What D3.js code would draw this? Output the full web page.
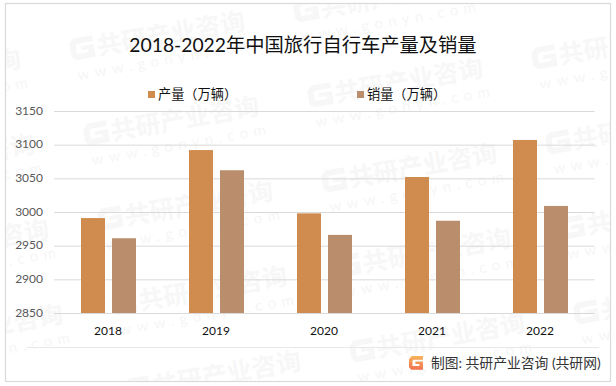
<!doctype html>
<html lang="zh-CN">
<head>
	<meta charset="UTF-8">
	<title>2018-2022年中国旅行自行车产量及销量</title>
	<style>
		html, body { margin: 0; padding: 0; background: #fff; }
		svg { display: block; }
		text { font-family: Lato, "Noto Sans CJK SC", sans-serif; }
	</style>
</head>
<body>
	<script src="https://cdn.jsdelivr.net/npm/d3@7"></script>
	<script>
		var years = ['2018', '2019', '2020', '2021', '2022'];
		var seriesNames = ['产量（万辆）', '销量（万辆）'];
		var output = [2991, 3092, 2998, 3052, 3107];
		var sales = [2961, 3062, 2966, 2987, 3009];
		var yTicks = [2850, 2900, 2950, 3000, 3050, 3100, 3150];
		var colors = ['#d08c4e', '#ba8e6c'];

		var w = 616,
			h = 386;

		var svg = d3.select('body')
			.append('svg')
			.attr('width', w)
			.attr('height', h);

		var defs = svg.append('defs');

		defs.append('clipPath')
			.attr('id', 'frame')
			.append('rect')
			.attr('x', 6).attr('y', 4)
			.attr('width', 604).attr('height', 377);

		var grad = defs.append('linearGradient')
			.attr('id', 'logo')
			.attr('x1', 0).attr('y1', 0)
			.attr('x2', 0).attr('y2', 1);
		grad.append('stop').attr('offset', 0).attr('stop-color', '#f9b45a');
		grad.append('stop').attr('offset', 1).attr('stop-color', '#ef7150');

		// outer frame
		svg.append('rect')
			.attr('x', 5.5).attr('y', 3.5)
			.attr('width', 605).attr('height', 378)
			.attr('fill', '#fff')
			.attr('stroke', '#d9d9d9')
			.attr('stroke-width', 1.2);

		// block G used by the watermark and the footer logo, 24 wide, 22 high
		var gShape = 'M5 0H24V6H8L6 8V16H18V13H11V9H24V22H4L0 18V5Z';

		// watermark, tiled under the chart
		var marks = svg.append('g')
			.attr('class', 'watermark')
			.attr('clip-path', 'url(#frame)');
		for (var a = -1; a < 4; a++) {
			for (var b = -1; b < 5; b++) {
				var mx = 72 + a * 238 + b * 14,
					my = 60 + a * 47 + b * 85;
				// only the tiles that reach into the frame
				if (mx < -165 || mx > 605 || my < 0 || my > 410) continue;
				var m = marks.append('g')
					.attr('transform', 'translate(' + mx + ',' + my + ') rotate(-10)');
				m.append('path')
					.attr('d', gShape)
					.attr('transform', 'translate(0,-21)')
					.attr('fill', '#f7f7f7');
				m.append('text')
					.attr('x', 27)
					.attr('font-size', 25)
					.attr('font-weight', 700)
					.attr('fill', '#f7f7f7')
					.text('共研产业咨询');
				m.append('text')
					.attr('x', 3).attr('y', 21)
					.attr('font-size', 15)
					.attr('letter-spacing', 5.5)
					.attr('fill', '#f6f6f6')
					.text('www.gonyn.com');
			}
		}

		var x = d3.scaleBand()
			.domain(years)
			.range([54, 594]);

		var inner = d3.scaleBand()
			.domain([0, 1])
			.range([27, 82])
			.paddingInner(7 / 31);

		var y = d3.scaleLinear()
			.domain([2850, 3150])
			.range([313, 111]);

		// gridlines
		svg.append('g')
			.selectAll('line')
			.data(yTicks)
			.enter()
			.append('line')
			.attr('x1', 54)
			.attr('x2', 594.5)
			.attr('y1', function(d) { return y(d) + 0.5; })
			.attr('y2', function(d) { return y(d) + 0.5; })
			.attr('stroke', '#d9d9d9')
			.attr('stroke-width', 1);

		svg.append('g')
			.selectAll('text')
			.data(yTicks)
			.enter()
			.append('text')
			.attr('x', 43)
			.attr('y', function(d) { return y(d) + 3.8; })
			.attr('text-anchor', 'end')
			.attr('font-size', 12)
			.attr('fill', '#595959')
			.text(function(d) { return d; });

		[output, sales].forEach(function(values, s) {
			svg.append('g')
				.selectAll('rect')
				.data(values)
				.enter()
				.append('rect')
				.attr('x', function(d, i) { return x(years[i]) + inner(s); })
				.attr('y', function(d) { return y(d); })
				.attr('width', inner.bandwidth())
				.attr('height', function(d) { return y(2850) - y(d); })
				.attr('fill', colors[s]);
		});

		svg.append('g')
			.selectAll('text')
			.data(years)
			.enter()
			.append('text')
			.attr('x', function(d) { return x(d) + x.bandwidth() / 2; })
			.attr('y', 335)
			.attr('text-anchor', 'middle')
			.attr('font-size', 12)
			.attr('fill', '#111')
			.text(function(d) { return d; });

		// title
		svg.append('text')
			.attr('x', 303).attr('y', 51.5)
			.attr('text-anchor', 'middle')
			.attr('font-size', 19.3)
			.attr('fill', '#111')
			.text('2018-2022年中国旅行自行车产量及销量');

		// legend
		var legendX = [148, 357];
		seriesNames.forEach(function(name, i) {
			svg.append('rect')
				.attr('x', legendX[i]).attr('y', 91)
				.attr('width', 7).attr('height', 7)
				.attr('fill', colors[i]);
			svg.append('text')
				.attr('x', legendX[i] + 10).attr('y', 99)
				.attr('font-size', 13.2)
				.attr('fill', '#111')
				.text(name);
		});

		// footer
		svg.append('line')
			.attr('x1', 27).attr('x2', 599)
			.attr('y1', 347.5).attr('y2', 347.5)
			.attr('stroke', '#e8e8e8');

		svg.append('path')
			.attr('d', gShape)
			.attr('transform', 'translate(409,356) scale(0.58,0.62)')
			.attr('fill', 'url(#logo)');

		svg.append('text')
			.attr('x', 431).attr('y', 367.5)
			.attr('font-size', 13.8)
			.attr('fill', '#333')
			.text('制图: 共研产业咨询 (共研网)');
	</script>
</body>
</html>
